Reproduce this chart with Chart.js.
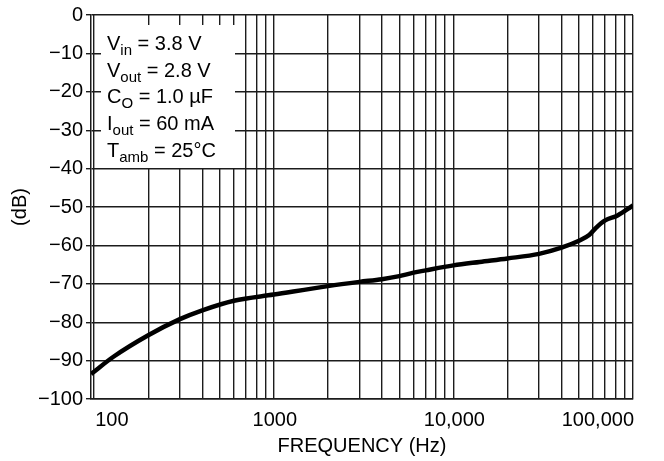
<!DOCTYPE html>
<html>
<head>
<meta charset="utf-8">
<script src="https://cdn.jsdelivr.net/npm/chart.js@4.4.1/dist/chart.umd.min.js"></script>
<style>
  html, body { margin: 0; padding: 0; background: #fff; }
  canvas { display: block; }
</style>
</head>
<body>
<canvas id="psrrChart" width="664" height="461"></canvas>
<script>
// ripple rejection vs frequency
var frequencies = [96, 128, 200, 300, 400, 600, 1000, 2000, 3000, 4000, 5000, 6000, 7000, 10000, 14000, 20000, 30000, 40000, 50000, 57000, 62000, 70000, 82000, 100000];
var rejectionDb = [-93.5, -89.0, -83.4, -79.2, -76.9, -74.4, -72.8, -70.6, -69.5, -68.8, -68.0, -67.1, -66.5, -65.2, -64.3, -63.4, -62.2, -60.6, -58.8, -57.3, -55.5, -53.5, -52.2, -49.6];

var xGridValues = [];
[100, 1000, 10000].forEach(function (decade) {
  for (var m = 1; m <= 9; m++) xGridValues.push(decade * m);
});
xGridValues.push(100000);
var xTickValues = [100, 1000, 10000, 100000];
var xTickLabels = ['100', '1000', '10,000', '100,000'];

var conditions = [
  ['V', 'in', ' = 3.8 V'],
  ['V', 'out', ' = 2.8 V'],
  ['C', 'O', ' = 1.0 \u00b5F'],
  ['I', 'out', ' = 60 mA'],
  ['T', 'amb', ' = 25\u00b0C']
];

var FONT = '"Liberation Sans", Arial, Helvetica, sans-serif';
var GRID = '#1c1c1c';

// white box with the test conditions, drawn over the grid
var conditionsBox = {
  id: 'conditionsBox',
  beforeDatasetsDraw: function (chart) {
    var ctx = chart.ctx;
    var area = chart.chartArea;
    ctx.save();
    ctx.fillStyle = '#fff';
    ctx.fillRect(area.left + 10, area.top + 10, 134, 143);
    ctx.fillStyle = '#000';
    ctx.textBaseline = 'alphabetic';
    var x0 = area.left + 16;
    for (var i = 0; i < conditions.length; i++) {
      var y = area.top + 35 + i * 26.7;
      var x = x0;
      ctx.font = '20px ' + FONT;
      ctx.fillText(conditions[i][0], x, y);
      x += ctx.measureText(conditions[i][0]).width;
      ctx.font = '15px ' + FONT;
      ctx.fillText(conditions[i][1], x, y + 5);
      x += ctx.measureText(conditions[i][1]).width;
      ctx.font = '20px ' + FONT;
      ctx.fillText(conditions[i][2], x, y);
    }
    ctx.restore();
  }
};

var points = frequencies.map(function (f, i) { return { x: f, y: rejectionDb[i] }; });

var chart = new Chart(document.getElementById('psrrChart').getContext('2d'), {
  type: 'line',
  data: {
    datasets: [{
      data: points,
      borderColor: '#000',
      borderWidth: 4.5,
      pointRadius: 0,
      cubicInterpolationMode: 'monotone',
      fill: false
    }]
  },
  options: {
    responsive: false,
    animation: false,
    devicePixelRatio: 1,
    layout: { padding: { top: 15, right: 31, left: 0, bottom: 0 } },
    plugins: {
      legend: { display: false },
      tooltip: { enabled: false }
    },
    scales: {
      x: {
        type: 'logarithmic',
        min: 96,
        max: 100000,
        afterBuildTicks: function (scale) {
          scale.ticks = xGridValues.map(function (v) { return { value: v }; });
        },
        afterFit: function (scale) { scale.height = 62; },
        grid: { color: GRID, lineWidth: 1.4, drawTicks: false },
        border: { color: GRID, width: 1.5 },
        ticks: {
          autoSkip: false,
          maxRotation: 0,
          align: 'inner',
          labelOffset: 1,
          padding: 9,
          color: '#000',
          font: { family: FONT, size: 20 },
          callback: function (value) {
            var k = xTickValues.indexOf(value);
            return k >= 0 ? xTickLabels[k] : '';
          }
        },
        title: {
          display: true,
          text: 'FREQUENCY (Hz)',
          color: '#000',
          font: { family: FONT, size: 20 },
          padding: { top: 0, bottom: 3 }
        }
      },
      y: {
        min: -100,
        max: 0,
        afterFit: function (scale) { scale.width = 91; },
        grid: { color: GRID, lineWidth: 1.4, tickLength: 5 },
        border: { color: GRID, width: 1.5 },
        ticks: {
          stepSize: 10,
          padding: 3,
          color: '#000',
          font: { family: FONT, size: 20 },
          callback: function (value) {
            return value === 0 ? '0' : '\u2212' + Math.abs(value);
          }
        },
        title: {
          display: true,
          text: '(dB)',
          color: '#000',
          font: { family: FONT, size: 20 },
          padding: { top: 8, bottom: 0 }
        }
      }
    }
  },
  plugins: [conditionsBox]
});
</script>
</body>
</html>
